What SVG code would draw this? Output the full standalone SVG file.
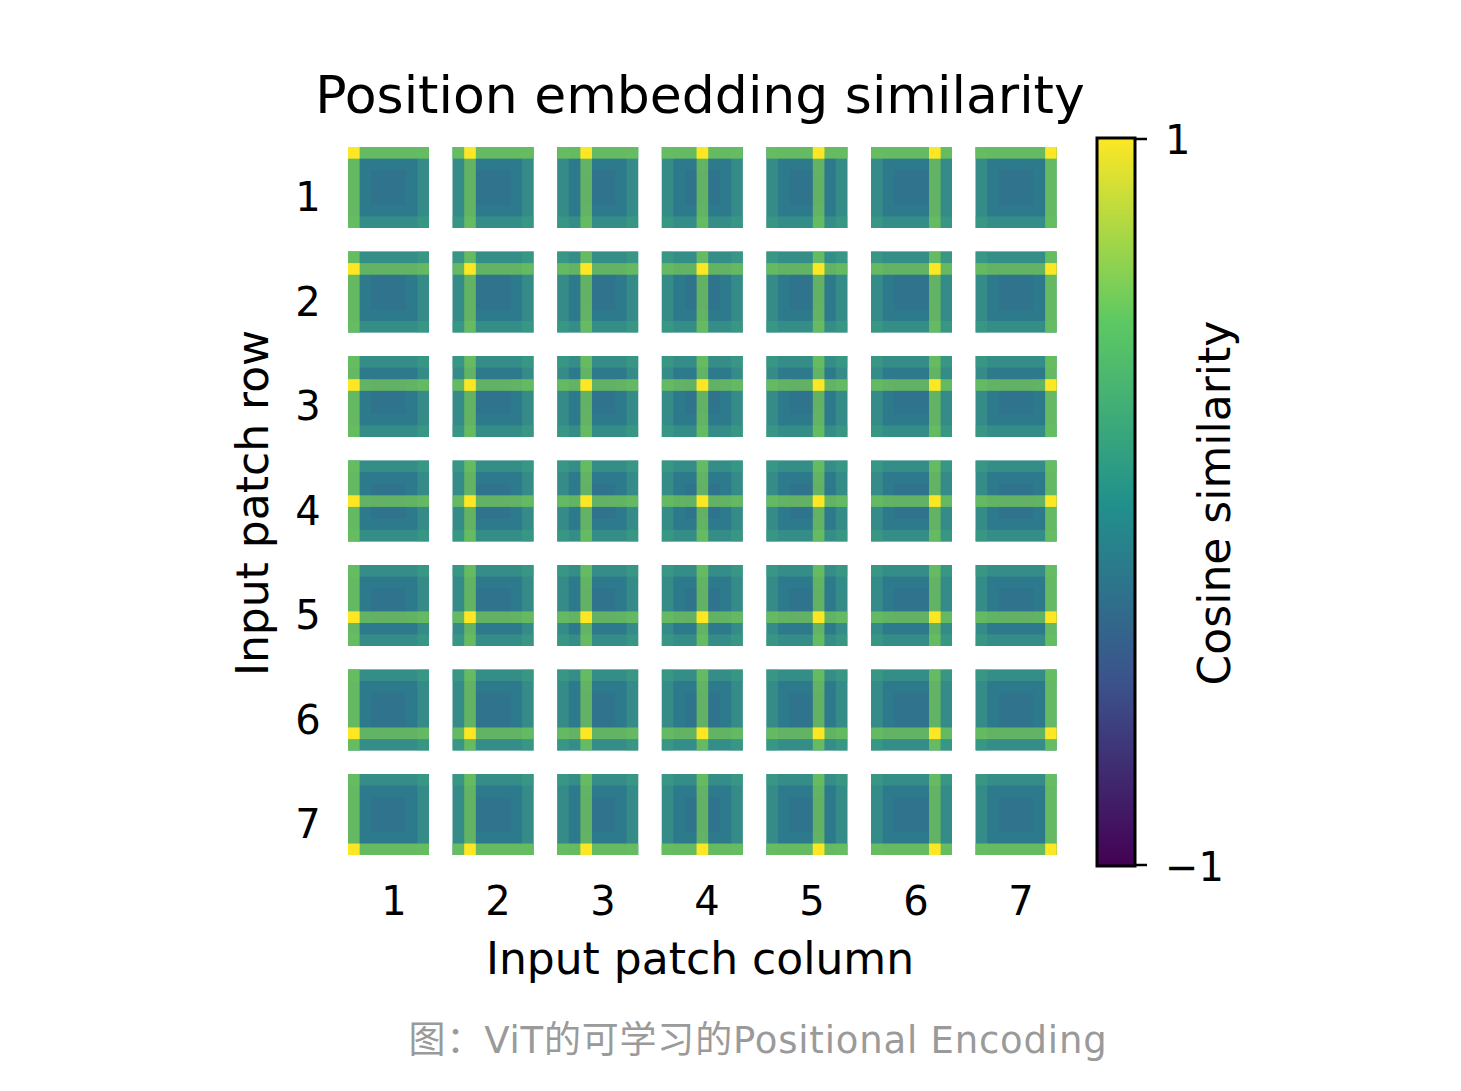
<svg xmlns="http://www.w3.org/2000/svg" xmlns:xlink="http://www.w3.org/1999/xlink" width="1461" height="1091" viewBox="0 0 1461 1091">
<style>
text{font-family:"DejaVu Sans","Noto Sans CJK SC",sans-serif;fill:#000}
.h{fill:#7fd34e;opacity:.65}
.v{fill:#7fd34e;opacity:.65}
.p{fill:#fde725}
</style>
<defs>
<linearGradient id="vir" x1="0" y1="1" x2="0" y2="0">
<stop offset="0" stop-color="#440154"/><stop offset=".25" stop-color="#3b528b"/><stop offset=".5" stop-color="#21918c"/><stop offset=".75" stop-color="#5ec962"/><stop offset="1" stop-color="#fde725"/>
</linearGradient>
<g id="base">
<rect width="81" height="81" fill="#2e7a8d"/>
<rect width="81" height="11.6" fill="#3fa583" opacity=".45"/>
<rect y="69.4" width="81" height="11.6" fill="#3fa583" opacity=".45"/>
<rect width="11.6" height="81" fill="#3fa583" opacity=".4"/>
<rect x="69.4" width="11.6" height="81" fill="#3fa583" opacity=".4"/>
<rect x="23.2" y="23.2" width="34.8" height="34.8" fill="#32628d" opacity=".3"/>
</g>
</defs>
<rect width="1461" height="1091" fill="#fff"/>
<text x="700" y="113" font-size="52" text-anchor="middle">Position embedding similarity</text>
<g id="tiles">
<g transform="translate(348,147)"><use xlink:href="#base"/><rect class="h" y="0" width="81" height="11.6"/><rect class="v" x="0" width="11.6" height="81"/><rect class="p" x="0" y="0" width="11.6" height="11.6"/></g>
<g transform="translate(452.6,147)"><use xlink:href="#base"/><rect class="h" y="0" width="81" height="11.6"/><rect class="v" x="11.6" width="11.6" height="81"/><rect class="p" x="11.6" y="0" width="11.6" height="11.6"/></g>
<g transform="translate(557.2,147)"><use xlink:href="#base"/><rect class="h" y="0" width="81" height="11.6"/><rect class="v" x="23.2" width="11.6" height="81"/><rect class="p" x="23.2" y="0" width="11.6" height="11.6"/></g>
<g transform="translate(661.8,147)"><use xlink:href="#base"/><rect class="h" y="0" width="81" height="11.6"/><rect class="v" x="34.8" width="11.6" height="81"/><rect class="p" x="34.8" y="0" width="11.6" height="11.6"/></g>
<g transform="translate(766.4,147)"><use xlink:href="#base"/><rect class="h" y="0" width="81" height="11.6"/><rect class="v" x="46.4" width="11.6" height="81"/><rect class="p" x="46.4" y="0" width="11.6" height="11.6"/></g>
<g transform="translate(871,147)"><use xlink:href="#base"/><rect class="h" y="0" width="81" height="11.6"/><rect class="v" x="58" width="11.6" height="81"/><rect class="p" x="58" y="0" width="11.6" height="11.6"/></g>
<g transform="translate(975.6,147)"><use xlink:href="#base"/><rect class="h" y="0" width="81" height="11.6"/><rect class="v" x="69.6" width="11.4" height="81"/><rect class="p" x="69.6" y="0" width="11.4" height="11.6"/></g>

<g transform="translate(348,251.5)"><use xlink:href="#base"/><rect class="h" y="11.6" width="81" height="11.6"/><rect class="v" x="0" width="11.6" height="81"/><rect class="p" x="0" y="11.6" width="11.6" height="11.6"/></g>
<g transform="translate(452.6,251.5)"><use xlink:href="#base"/><rect class="h" y="11.6" width="81" height="11.6"/><rect class="v" x="11.6" width="11.6" height="81"/><rect class="p" x="11.6" y="11.6" width="11.6" height="11.6"/></g>
<g transform="translate(557.2,251.5)"><use xlink:href="#base"/><rect class="h" y="11.6" width="81" height="11.6"/><rect class="v" x="23.2" width="11.6" height="81"/><rect class="p" x="23.2" y="11.6" width="11.6" height="11.6"/></g>
<g transform="translate(661.8,251.5)"><use xlink:href="#base"/><rect class="h" y="11.6" width="81" height="11.6"/><rect class="v" x="34.8" width="11.6" height="81"/><rect class="p" x="34.8" y="11.6" width="11.6" height="11.6"/></g>
<g transform="translate(766.4,251.5)"><use xlink:href="#base"/><rect class="h" y="11.6" width="81" height="11.6"/><rect class="v" x="46.4" width="11.6" height="81"/><rect class="p" x="46.4" y="11.6" width="11.6" height="11.6"/></g>
<g transform="translate(871,251.5)"><use xlink:href="#base"/><rect class="h" y="11.6" width="81" height="11.6"/><rect class="v" x="58" width="11.6" height="81"/><rect class="p" x="58" y="11.6" width="11.6" height="11.6"/></g>
<g transform="translate(975.6,251.5)"><use xlink:href="#base"/><rect class="h" y="11.6" width="81" height="11.6"/><rect class="v" x="69.6" width="11.4" height="81"/><rect class="p" x="69.6" y="11.6" width="11.4" height="11.6"/></g>

<g transform="translate(348,356)"><use xlink:href="#base"/><rect class="h" y="23.2" width="81" height="11.6"/><rect class="v" x="0" width="11.6" height="81"/><rect class="p" x="0" y="23.2" width="11.6" height="11.6"/></g>
<g transform="translate(452.6,356)"><use xlink:href="#base"/><rect class="h" y="23.2" width="81" height="11.6"/><rect class="v" x="11.6" width="11.6" height="81"/><rect class="p" x="11.6" y="23.2" width="11.6" height="11.6"/></g>
<g transform="translate(557.2,356)"><use xlink:href="#base"/><rect class="h" y="23.2" width="81" height="11.6"/><rect class="v" x="23.2" width="11.6" height="81"/><rect class="p" x="23.2" y="23.2" width="11.6" height="11.6"/></g>
<g transform="translate(661.8,356)"><use xlink:href="#base"/><rect class="h" y="23.2" width="81" height="11.6"/><rect class="v" x="34.8" width="11.6" height="81"/><rect class="p" x="34.8" y="23.2" width="11.6" height="11.6"/></g>
<g transform="translate(766.4,356)"><use xlink:href="#base"/><rect class="h" y="23.2" width="81" height="11.6"/><rect class="v" x="46.4" width="11.6" height="81"/><rect class="p" x="46.4" y="23.2" width="11.6" height="11.6"/></g>
<g transform="translate(871,356)"><use xlink:href="#base"/><rect class="h" y="23.2" width="81" height="11.6"/><rect class="v" x="58" width="11.6" height="81"/><rect class="p" x="58" y="23.2" width="11.6" height="11.6"/></g>
<g transform="translate(975.6,356)"><use xlink:href="#base"/><rect class="h" y="23.2" width="81" height="11.6"/><rect class="v" x="69.6" width="11.4" height="81"/><rect class="p" x="69.6" y="23.2" width="11.4" height="11.6"/></g>

<g transform="translate(348,460.5)"><use xlink:href="#base"/><rect class="h" y="34.8" width="81" height="11.6"/><rect class="v" x="0" width="11.6" height="81"/><rect class="p" x="0" y="34.8" width="11.6" height="11.6"/></g>
<g transform="translate(452.6,460.5)"><use xlink:href="#base"/><rect class="h" y="34.8" width="81" height="11.6"/><rect class="v" x="11.6" width="11.6" height="81"/><rect class="p" x="11.6" y="34.8" width="11.6" height="11.6"/></g>
<g transform="translate(557.2,460.5)"><use xlink:href="#base"/><rect class="h" y="34.8" width="81" height="11.6"/><rect class="v" x="23.2" width="11.6" height="81"/><rect class="p" x="23.2" y="34.8" width="11.6" height="11.6"/></g>
<g transform="translate(661.8,460.5)"><use xlink:href="#base"/><rect class="h" y="34.8" width="81" height="11.6"/><rect class="v" x="34.8" width="11.6" height="81"/><rect class="p" x="34.8" y="34.8" width="11.6" height="11.6"/></g>
<g transform="translate(766.4,460.5)"><use xlink:href="#base"/><rect class="h" y="34.8" width="81" height="11.6"/><rect class="v" x="46.4" width="11.6" height="81"/><rect class="p" x="46.4" y="34.8" width="11.6" height="11.6"/></g>
<g transform="translate(871,460.5)"><use xlink:href="#base"/><rect class="h" y="34.8" width="81" height="11.6"/><rect class="v" x="58" width="11.6" height="81"/><rect class="p" x="58" y="34.8" width="11.6" height="11.6"/></g>
<g transform="translate(975.6,460.5)"><use xlink:href="#base"/><rect class="h" y="34.8" width="81" height="11.6"/><rect class="v" x="69.6" width="11.4" height="81"/><rect class="p" x="69.6" y="34.8" width="11.4" height="11.6"/></g>

<g transform="translate(348,565)"><use xlink:href="#base"/><rect class="h" y="46.4" width="81" height="11.6"/><rect class="v" x="0" width="11.6" height="81"/><rect class="p" x="0" y="46.4" width="11.6" height="11.6"/></g>
<g transform="translate(452.6,565)"><use xlink:href="#base"/><rect class="h" y="46.4" width="81" height="11.6"/><rect class="v" x="11.6" width="11.6" height="81"/><rect class="p" x="11.6" y="46.4" width="11.6" height="11.6"/></g>
<g transform="translate(557.2,565)"><use xlink:href="#base"/><rect class="h" y="46.4" width="81" height="11.6"/><rect class="v" x="23.2" width="11.6" height="81"/><rect class="p" x="23.2" y="46.4" width="11.6" height="11.6"/></g>
<g transform="translate(661.8,565)"><use xlink:href="#base"/><rect class="h" y="46.4" width="81" height="11.6"/><rect class="v" x="34.8" width="11.6" height="81"/><rect class="p" x="34.8" y="46.4" width="11.6" height="11.6"/></g>
<g transform="translate(766.4,565)"><use xlink:href="#base"/><rect class="h" y="46.4" width="81" height="11.6"/><rect class="v" x="46.4" width="11.6" height="81"/><rect class="p" x="46.4" y="46.4" width="11.6" height="11.6"/></g>
<g transform="translate(871,565)"><use xlink:href="#base"/><rect class="h" y="46.4" width="81" height="11.6"/><rect class="v" x="58" width="11.6" height="81"/><rect class="p" x="58" y="46.4" width="11.6" height="11.6"/></g>
<g transform="translate(975.6,565)"><use xlink:href="#base"/><rect class="h" y="46.4" width="81" height="11.6"/><rect class="v" x="69.6" width="11.4" height="81"/><rect class="p" x="69.6" y="46.4" width="11.4" height="11.6"/></g>

<g transform="translate(348,669.5)"><use xlink:href="#base"/><rect class="h" y="58" width="81" height="11.6"/><rect class="v" x="0" width="11.6" height="81"/><rect class="p" x="0" y="58" width="11.6" height="11.6"/></g>
<g transform="translate(452.6,669.5)"><use xlink:href="#base"/><rect class="h" y="58" width="81" height="11.6"/><rect class="v" x="11.6" width="11.6" height="81"/><rect class="p" x="11.6" y="58" width="11.6" height="11.6"/></g>
<g transform="translate(557.2,669.5)"><use xlink:href="#base"/><rect class="h" y="58" width="81" height="11.6"/><rect class="v" x="23.2" width="11.6" height="81"/><rect class="p" x="23.2" y="58" width="11.6" height="11.6"/></g>
<g transform="translate(661.8,669.5)"><use xlink:href="#base"/><rect class="h" y="58" width="81" height="11.6"/><rect class="v" x="34.8" width="11.6" height="81"/><rect class="p" x="34.8" y="58" width="11.6" height="11.6"/></g>
<g transform="translate(766.4,669.5)"><use xlink:href="#base"/><rect class="h" y="58" width="81" height="11.6"/><rect class="v" x="46.4" width="11.6" height="81"/><rect class="p" x="46.4" y="58" width="11.6" height="11.6"/></g>
<g transform="translate(871,669.5)"><use xlink:href="#base"/><rect class="h" y="58" width="81" height="11.6"/><rect class="v" x="58" width="11.6" height="81"/><rect class="p" x="58" y="58" width="11.6" height="11.6"/></g>
<g transform="translate(975.6,669.5)"><use xlink:href="#base"/><rect class="h" y="58" width="81" height="11.6"/><rect class="v" x="69.6" width="11.4" height="81"/><rect class="p" x="69.6" y="58" width="11.4" height="11.6"/></g>

<g transform="translate(348,774)"><use xlink:href="#base"/><rect class="h" y="69.6" width="81" height="11.4"/><rect class="v" x="0" width="11.6" height="81"/><rect class="p" x="0" y="69.6" width="11.6" height="11.4"/></g>
<g transform="translate(452.6,774)"><use xlink:href="#base"/><rect class="h" y="69.6" width="81" height="11.4"/><rect class="v" x="11.6" width="11.6" height="81"/><rect class="p" x="11.6" y="69.6" width="11.6" height="11.4"/></g>
<g transform="translate(557.2,774)"><use xlink:href="#base"/><rect class="h" y="69.6" width="81" height="11.4"/><rect class="v" x="23.2" width="11.6" height="81"/><rect class="p" x="23.2" y="69.6" width="11.6" height="11.4"/></g>
<g transform="translate(661.8,774)"><use xlink:href="#base"/><rect class="h" y="69.6" width="81" height="11.4"/><rect class="v" x="34.8" width="11.6" height="81"/><rect class="p" x="34.8" y="69.6" width="11.6" height="11.4"/></g>
<g transform="translate(766.4,774)"><use xlink:href="#base"/><rect class="h" y="69.6" width="81" height="11.4"/><rect class="v" x="46.4" width="11.6" height="81"/><rect class="p" x="46.4" y="69.6" width="11.6" height="11.4"/></g>
<g transform="translate(871,774)"><use xlink:href="#base"/><rect class="h" y="69.6" width="81" height="11.4"/><rect class="v" x="58" width="11.6" height="81"/><rect class="p" x="58" y="69.6" width="11.6" height="11.4"/></g>
<g transform="translate(975.6,774)"><use xlink:href="#base"/><rect class="h" y="69.6" width="81" height="11.4"/><rect class="v" x="69.6" width="11.4" height="81"/><rect class="p" x="69.6" y="69.6" width="11.4" height="11.4"/></g>
</g>
<g id="rowlabels" font-size="40" text-anchor="middle">
<text x="308" y="211">1</text><text x="308" y="316">2</text><text x="308" y="420">3</text><text x="308" y="525">4</text><text x="308" y="629">5</text><text x="308" y="734">6</text><text x="308" y="838">7</text>
</g>
<g id="collabels" font-size="40" text-anchor="middle">
<text x="394" y="915">1</text><text x="498" y="915">2</text><text x="603" y="915">3</text><text x="707" y="915">4</text><text x="812" y="915">5</text><text x="916" y="915">6</text><text x="1021" y="915">7</text>
</g>
<text x="700" y="974" font-size="44" text-anchor="middle">Input patch column</text>
<text transform="translate(268,503) rotate(-90)" font-size="44" text-anchor="middle">Input patch row</text>
<g id="colorbar">
<rect x="1097" y="138" width="38" height="728" fill="url(#vir)" stroke="#000" stroke-width="3"/>
<line x1="1135" y1="139" x2="1147" y2="139" stroke="#000" stroke-width="2.5"/>
<line x1="1135" y1="865" x2="1147" y2="865" stroke="#000" stroke-width="2.5"/>
<text x="1165" y="154" font-size="40">1</text>
<text x="1165" y="881" font-size="40">−1</text>
<text transform="translate(1230,503) rotate(-90)" font-size="44" text-anchor="middle">Cosine similarity</text>
</g>
<text x="758" y="1053" font-size="37" letter-spacing="0.8" text-anchor="middle" style="fill:#9a9a9a">图：ViT的可学习的Positional Encoding</text>
</svg>
